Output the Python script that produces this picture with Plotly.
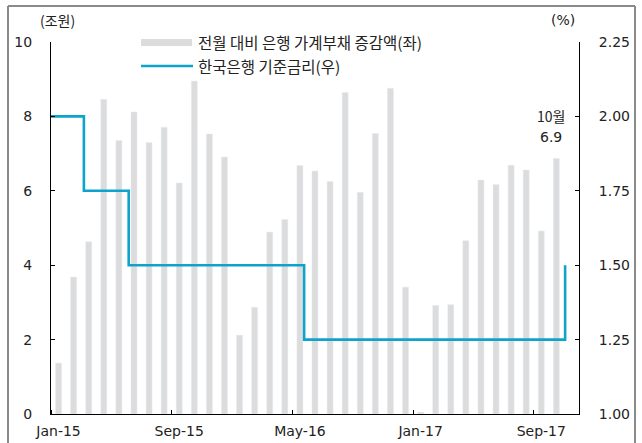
import plotly.graph_objects as go

# ---- data ----
months = ["Jan-15", "Feb-15", "Mar-15", "Apr-15", "May-15", "Jun-15", "Jul-15", "Aug-15",
          "Sep-15", "Oct-15", "Nov-15", "Dec-15", "Jan-16", "Feb-16", "Mar-16", "Apr-16",
          "May-16", "Jun-16", "Jul-16", "Aug-16", "Sep-16", "Oct-16", "Nov-16", "Dec-16",
          "Jan-17", "Feb-17", "Mar-17", "Apr-17", "May-17", "Jun-17", "Jul-17", "Aug-17",
          "Sep-17", "Oct-17", "Nov-17"]
debt_change = [1.37, 3.68, 4.63, 8.46, 7.35, 8.12, 7.30, 7.71,
               6.21, 8.95, 7.53, 6.91, 2.12, 2.87, 4.89, 5.23,
               6.68, 6.53, 6.25, 8.64, 5.96, 7.54, 8.76, 3.41,
               0.05, 2.92, 2.94, 4.66, 6.29, 6.17, 6.69, 6.56,
               4.92, 6.87]
# base rate: level in force and month-index positions where it changed
rate_levels = [2.00, 1.75, 1.50, 1.25, 1.50]
rate_change_pos = [1.68, 4.65, 16.28, 33.58]
tick_labels = ["Jan-15", "Sep-15", "May-16", "Jan-17", "Sep-17"]

bar_name = "전월 대비 은행 가계부채 증감액(좌)"
line_name = "한국은행 기준금리(우)"
left_unit = "(조원)"
right_unit = "(%)"
note_lines = ["10월", "6.9"]

FONT = "Noto Sans CJK KR"
NUM_FONT = "DejaVu Sans"
TXT = "#222222"
LINE_C = "#0EA3CB"
BAR_C = "#DCDCDC"
FRAME_C = "#8a8a8a"

W, H = 642, 443
L, R, T, B = 51, 63, 42, 29
PW, PH = W - L - R, H - T - B


def px(x):
    return (x - L) / PW


def py(y):
    return (H - B - y) / PH


x_idx = list(range(len(months)))
bar_x = x_idx[:len(debt_change)]

fig = go.Figure()
fig.add_trace(go.Bar(x=bar_x, y=debt_change, marker_color=BAR_C, width=0.4,
                     name=bar_name, showlegend=False))

line_x = [-0.5] + rate_change_pos
fig.add_trace(go.Scatter(x=line_x, y=rate_levels, mode="lines", line_shape="hv",
                         line=dict(color=LINE_C, width=2.6), yaxis="y2",
                         name=line_name, showlegend=False))

tickvals = [months.index(t) for t in tick_labels]
numfont = dict(family=NUM_FONT, size=14, color=TXT)
fig.update_layout(
    width=W, height=H,
    margin=dict(l=L, r=R, t=T, b=B, autoexpand=False),
    paper_bgcolor="white", plot_bgcolor="white",
    font=dict(family=FONT, size=14, color=TXT),
    showlegend=False,
    bargap=0.6,
    xaxis=dict(range=[-0.5, len(months) - 0.5], tickmode="array", tickvals=tickvals,
               ticktext=tick_labels, ticks="", showgrid=False, zeroline=False,
               showline=True, linecolor="black", linewidth=1, automargin=False,
               tickfont=numfont, ticklabelstandoff=4,
               minor=dict(tickvals=[v - 0.5 for v in tickvals], ticks="inside",
                          ticklen=4, tickcolor="black", showgrid=False)),
    yaxis=dict(range=[0, 10], dtick=2, ticks="inside", ticklen=4, tickcolor="black",
               showgrid=False, zeroline=False, showline=True, linecolor="black",
               linewidth=1, automargin=False, tickfont=numfont,
               ticklabelstandoff=15),
    yaxis2=dict(range=[1.0, 2.25], dtick=0.25, tickformat=".2f", overlaying="y",
                side="right", ticks="inside", ticklen=4, tickcolor="black",
                showgrid=False, zeroline=False, showline=True, linecolor="black",
                linewidth=1, automargin=False, tickfont=numfont,
                ticklabelstandoff=16),
)

# outer frame (left, top, right edges)
for (xa, ya, xb, yb) in [(8, 443, 8, 6), (8, 6, 635, 6), (635, 6, 635, 443)]:
    fig.add_shape(type="line", xref="paper", yref="paper",
                  x0=px(xa), y0=py(ya), x1=px(xb), y1=py(yb),
                  line=dict(color=FRAME_C, width=2))

# legend (drawn manually to mimic the wide swatches)
fig.add_shape(type="rect", xref="paper", yref="paper",
              x0=px(141), x1=px(192), y0=py(46), y1=py(39),
              fillcolor=BAR_C, line=dict(width=0))
fig.add_shape(type="line", xref="paper", yref="paper",
              x0=px(141), x1=px(193), y0=py(66), y1=py(66),
              line=dict(color=LINE_C, width=2.6))
fig.add_annotation(xref="paper", yref="paper", x=px(196), y=py(42), text=bar_name,
                   showarrow=False, xanchor="left", yanchor="middle",
                   font=dict(size=15.5, color=TXT))
fig.add_annotation(xref="paper", yref="paper", x=px(196), y=py(66), text=line_name,
                   showarrow=False, xanchor="left", yanchor="middle",
                   font=dict(size=15.5, color=TXT))

# unit labels
fig.add_annotation(xref="paper", yref="paper", x=px(57), y=py(20), text=left_unit,
                   showarrow=False, xanchor="center", yanchor="middle",
                   font=dict(size=14, color=TXT))
fig.add_annotation(xref="paper", yref="paper", x=px(563), y=py(20), text=right_unit,
                   showarrow=False, xanchor="center", yanchor="middle",
                   font=dict(family=NUM_FONT, size=14, color=TXT))

# October note (two lines)
for i, (txt, shift) in enumerate(zip(note_lines, [42, 21])):
    fig.add_annotation(x=bar_x[-1], y=debt_change[-1], text=txt, showarrow=False,
                       xanchor="center", yanchor="middle", xshift=-5, yshift=shift,
                       font=dict(family=FONT if i == 0 else NUM_FONT, size=14, color=TXT))

fig.write_html("out.html", config={"displayModeBar": False},
               post_script="document.body.style.margin='0';document.body.style.overflow='hidden';")
